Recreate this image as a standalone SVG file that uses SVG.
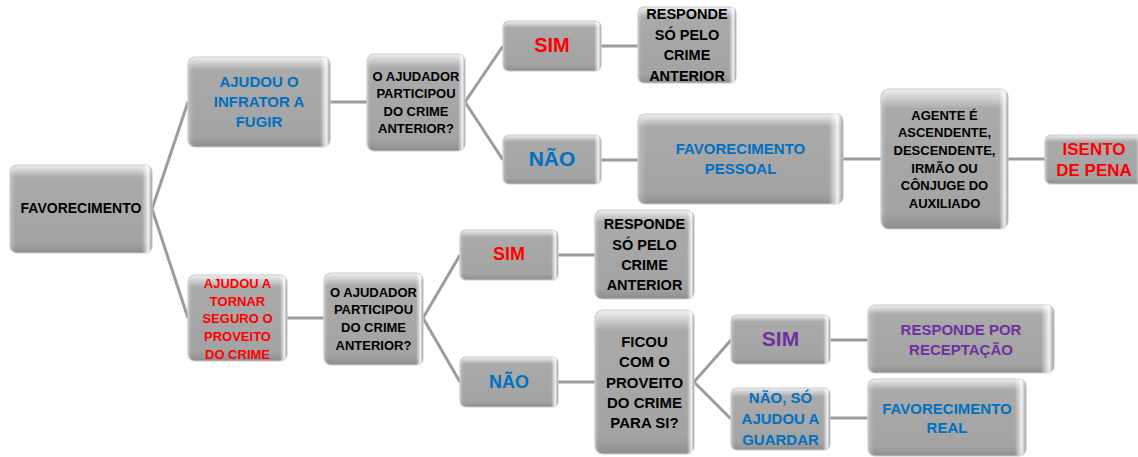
<svg xmlns="http://www.w3.org/2000/svg" width="1138" height="457" viewBox="0 0 1138 457">
<defs>
<linearGradient id="body" x1="0" y1="0" x2="0" y2="1">
<stop offset="0" stop-color="#f0f0f0"/>
<stop offset="0.06" stop-color="#d2d2d2"/>
<stop offset="0.14" stop-color="#aaaaaa"/>
<stop offset="0.88" stop-color="#a3a3a3"/>
<stop offset="1" stop-color="#8e8e8e"/>
</linearGradient>
<linearGradient id="side" x1="0" y1="0" x2="1" y2="0">
<stop offset="0" stop-color="#ffffff" stop-opacity="0.25"/>
<stop offset="0.04" stop-color="#ffffff" stop-opacity="0"/>
<stop offset="0.93" stop-color="#ffffff" stop-opacity="0"/>
<stop offset="0.975" stop-color="#ffffff" stop-opacity="0.85"/>
<stop offset="1" stop-color="#9aa4b0" stop-opacity="0.6"/>
</linearGradient>
<style>
.box{fill:url(#body);stroke:#c9c9c9;stroke-width:1.2}
.hl{fill:url(#side);stroke:none}
.t{font-family:"Liberation Sans",Arial,sans-serif;font-weight:bold;text-anchor:middle}
.k{fill:#000000}
.b{fill:#0070C0}
.r{fill:#FF0000}
.p{fill:#7030A0}
.c{fill:none;stroke:#9c9c9c;stroke-width:3}
</style>
</defs>
<rect width="1138" height="457" fill="#ffffff"/>
<g id="connectors">
<path class="c" d="M152 209 L188 102"/>
<path class="c" d="M152 209 L188 318"/>
<path class="c" d="M330 102 L367 102"/>
<path class="c" d="M465 102 L503 46"/>
<path class="c" d="M465 102 L503 160"/>
<path class="c" d="M601 46 L638 46"/>
<path class="c" d="M601 160 L638 160"/>
<path class="c" d="M843 159 L881 159"/>
<path class="c" d="M1008 159 L1045 159"/>
<path class="c" d="M287 318 L324 318"/>
<path class="c" d="M423 318 L460 255"/>
<path class="c" d="M423 318 L460 382"/>
<path class="c" d="M558 255 L595 255"/>
<path class="c" d="M558 382 L595 382"/>
<path class="c" d="M694 382 L731 340"/>
<path class="c" d="M694 382 L731 419"/>
<path class="c" d="M830 340 L868 340"/>
<path class="c" d="M830 418 L868 418"/>
</g>
<g id="n-favorecimento">
<rect class="box" x="10" y="165" width="142" height="88" rx="7"/>
<rect class="hl" x="10" y="165" width="142" height="88" rx="7"/>
<text class="t k" x="81" y="213" font-size="14">FAVORECIMENTO</text>
</g>
<g id="n-ajudou-fugir">
<rect class="box" x="188" y="57" width="142" height="90" rx="7"/>
<rect class="hl" x="188" y="57" width="142" height="90" rx="7"/>
<text class="t b" font-size="15"><tspan x="259" y="87">AJUDOU O</tspan><tspan x="259" y="107">INFRATOR A</tspan><tspan x="259" y="127">FUGIR</tspan></text>
</g>
<g id="n-participou-1">
<rect class="box" x="367" y="54" width="98" height="97" rx="7"/>
<rect class="hl" x="367" y="54" width="98" height="97" rx="7"/>
<text class="t k" font-size="13"><tspan x="416" y="81">O AJUDADOR</tspan><tspan x="416" y="98">PARTICIPOU</tspan><tspan x="416" y="115.5">DO CRIME</tspan><tspan x="416" y="133">ANTERIOR?</tspan></text>
</g>
<g id="n-sim-1">
<rect class="box" x="503" y="21" width="98" height="50" rx="6"/>
<rect class="hl" x="503" y="21" width="98" height="50" rx="6"/>
<text class="t r" x="552" y="52" font-size="20">SIM</text>
</g>
<g id="n-responde-1">
<rect class="box" x="638" y="7" width="98" height="76" rx="6"/>
<rect class="hl" x="638" y="7" width="98" height="76" rx="6"/>
<text class="t k" font-size="14.5"><tspan x="687" y="19">RESPONDE</tspan><tspan x="687" y="40">SÓ PELO</tspan><tspan x="687" y="60">CRIME</tspan><tspan x="687" y="81">ANTERIOR</tspan></text>
</g>
<g id="n-nao-1">
<rect class="box" x="503" y="135" width="98" height="49" rx="6"/>
<rect class="hl" x="503" y="135" width="98" height="49" rx="6"/>
<text class="t b" x="552" y="166" font-size="21">NÃO</text>
</g>
<g id="n-fav-pessoal">
<rect class="box" x="638" y="114" width="205" height="90" rx="7"/>
<rect class="hl" x="638" y="114" width="205" height="90" rx="7"/>
<text class="t b" font-size="15"><tspan x="740.5" y="153.5">FAVORECIMENTO</tspan><tspan x="740.5" y="173.5">PESSOAL</tspan></text>
</g>
<g id="n-agente">
<rect class="box" x="881" y="89" width="127" height="140" rx="8"/>
<rect class="hl" x="881" y="89" width="127" height="140" rx="8"/>
<text class="t k" font-size="13"><tspan x="944.5" y="119.5">AGENTE É</tspan><tspan x="944.5" y="137.2">ASCENDENTE,</tspan><tspan x="944.5" y="154.9">DESCENDENTE,</tspan><tspan x="944.5" y="172.6">IRMÃO OU</tspan><tspan x="944.5" y="190.3">CÔNJUGE DO</tspan><tspan x="944.5" y="208">AUXILIADO</tspan></text>
</g>
<g id="n-isento">
<rect class="box" x="1045" y="135" width="98" height="49" rx="6"/>
<rect class="hl" x="1045" y="135" width="98" height="49" rx="6"/>
<text class="t r" font-size="17"><tspan x="1094" y="154.5">ISENTO</tspan><tspan x="1094" y="175.5">DE PENA</tspan></text>
</g>
<g id="n-ajudou-tornar">
<rect class="box" x="188" y="275" width="99" height="86" rx="7"/>
<rect class="hl" x="188" y="275" width="99" height="86" rx="7"/>
<text class="t r" font-size="13"><tspan x="237.5" y="288">AJUDOU A</tspan><tspan x="237.5" y="305.7">TORNAR</tspan><tspan x="237.5" y="323.4">SEGURO O</tspan><tspan x="237.5" y="341.1">PROVEITO</tspan><tspan x="237.5" y="358.8">DO CRIME</tspan></text>
</g>
<g id="n-participou-2">
<rect class="box" x="324" y="273" width="99" height="92" rx="7"/>
<rect class="hl" x="324" y="273" width="99" height="92" rx="7"/>
<text class="t k" font-size="13"><tspan x="373.5" y="296.5">O AJUDADOR</tspan><tspan x="373.5" y="314">PARTICIPOU</tspan><tspan x="373.5" y="331.5">DO CRIME</tspan><tspan x="373.5" y="349.5">ANTERIOR?</tspan></text>
</g>
<g id="n-sim-2">
<rect class="box" x="460" y="230" width="98" height="50" rx="6"/>
<rect class="hl" x="460" y="230" width="98" height="50" rx="6"/>
<text class="t r" x="509" y="260" font-size="18">SIM</text>
</g>
<g id="n-responde-2">
<rect class="box" x="595" y="210" width="99" height="89" rx="7"/>
<rect class="hl" x="595" y="210" width="99" height="89" rx="7"/>
<text class="t k" font-size="14.5"><tspan x="644.5" y="228.5">RESPONDE</tspan><tspan x="644.5" y="249.5">SÓ PELO</tspan><tspan x="644.5" y="269.5">CRIME</tspan><tspan x="644.5" y="290">ANTERIOR</tspan></text>
</g>
<g id="n-nao-2">
<rect class="box" x="460" y="357" width="98" height="50" rx="6"/>
<rect class="hl" x="460" y="357" width="98" height="50" rx="6"/>
<text class="t b" x="509" y="388" font-size="18">NÃO</text>
</g>
<g id="n-ficou">
<rect class="box" x="595" y="310" width="99" height="144" rx="8"/>
<rect class="hl" x="595" y="310" width="99" height="144" rx="8"/>
<text class="t k" font-size="15"><tspan x="644.5" y="347">FICOU</tspan><tspan x="644.5" y="367">COM O</tspan><tspan x="644.5" y="388">PROVEITO</tspan><tspan x="644.5" y="408">DO CRIME</tspan><tspan x="644.5" y="428">PARA SI?</tspan></text>
</g>
<g id="n-sim-3">
<rect class="box" x="731" y="315" width="99" height="49" rx="6"/>
<rect class="hl" x="731" y="315" width="99" height="49" rx="6"/>
<text class="t p" x="780.5" y="346" font-size="21">SIM</text>
</g>
<g id="n-nao-so">
<rect class="box" x="731" y="388" width="99" height="62" rx="6"/>
<rect class="hl" x="731" y="388" width="99" height="62" rx="6"/>
<text class="t b" font-size="15"><tspan x="780.5" y="403">NÃO, SÓ</tspan><tspan x="780.5" y="423.7">AJUDOU A</tspan><tspan x="780.5" y="444.7">GUARDAR</tspan></text>
</g>
<g id="n-receptacao">
<rect class="box" x="868" y="305" width="186" height="68" rx="7"/>
<rect class="hl" x="868" y="305" width="186" height="68" rx="7"/>
<text class="t p" font-size="15"><tspan x="961" y="334.7">RESPONDE POR</tspan><tspan x="961" y="354.7">RECEPTAÇÃO</tspan></text>
</g>
<g id="n-fav-real">
<rect class="box" x="868" y="379" width="158" height="77" rx="7"/>
<rect class="hl" x="868" y="379" width="158" height="77" rx="7"/>
<text class="t b" font-size="15"><tspan x="947" y="413.7">FAVORECIMENTO</tspan><tspan x="947" y="433">REAL</tspan></text>
</g>
</svg>
